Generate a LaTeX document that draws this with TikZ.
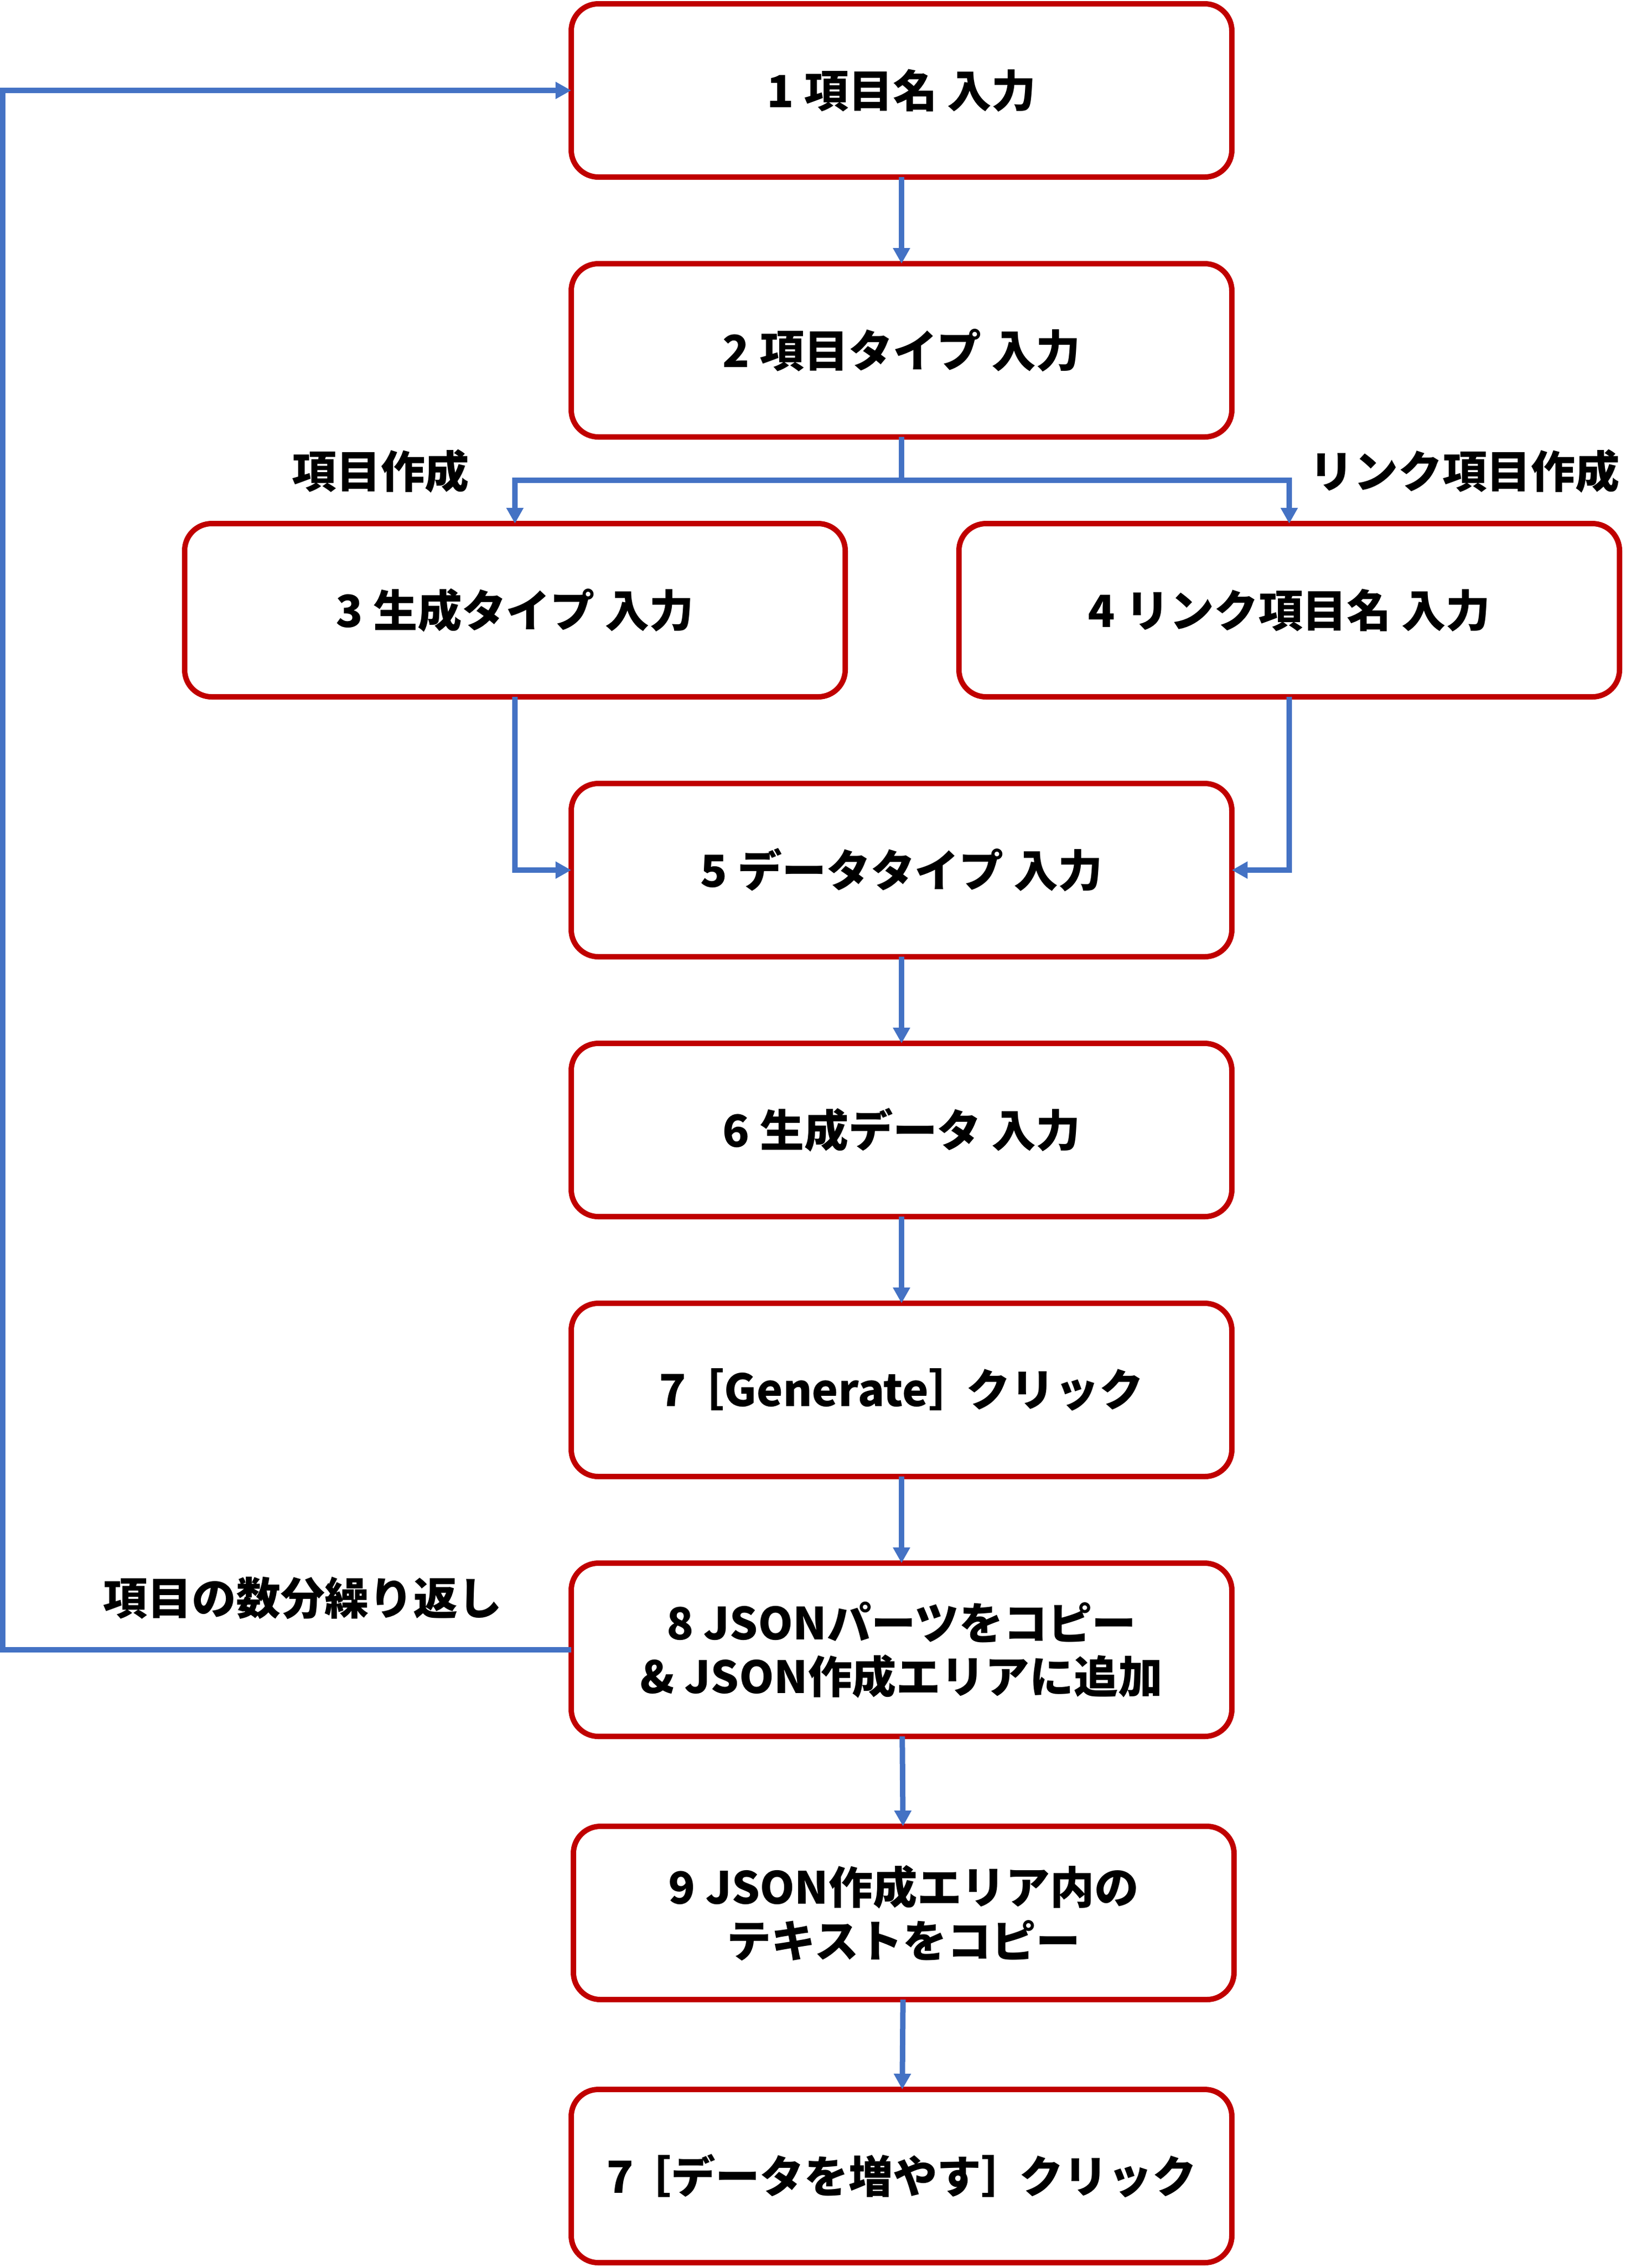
\documentclass[tikz,border=0pt]{standalone}
\usepackage{fontspec}
\setmainfont{Noto Sans CJK JP}
\usetikzlibrary{positioning,arrows.meta}
\definecolor{boxred}{HTML}{C00000}
\definecolor{linkblue}{HTML}{4472C4}
\tikzset{
  stepbox/.style={draw=boxred, line width=0.1cm, rounded corners=0.5cm, fill=white,
    minimum width=12.2cm, minimum height=3.2cm, outer sep=0pt, align=center,
    font=\bfseries\fontsize{23.3}{28.2}\selectfont},
  steplabel/.style={font=\bfseries\fontsize{23.3}{28.2}\selectfont},
  flow/.style={draw=linkblue, line width=0.1cm}
}

\begin{document}
\begin{tikzpicture}[>={Triangle[length=0.29cm,width=0.3cm]}]
			\useasboundingbox (0,0) rectangle (30.5,-41.87);
			\node[stepbox] (n1) at (16.65,-1.67) {1 項目名 入力};
			\node[stepbox] (n2) [below=1.6cm of n1] {2 項目タイプ 入力};
			\node[stepbox] (n3) [below=1.6cm of n2, xshift=-7.14cm] {3 生成タイプ 入力};
			\node[stepbox] (n4) [below=1.6cm of n2, xshift=7.16cm] {4 リンク項目名 入力};
			\node[stepbox] (n5) [below=1.6cm of n3, xshift=7.14cm] {5 データタイプ 入力};
			\node[stepbox] (n6) [below=1.6cm of n5] {6 生成データ 入力};
			\node[stepbox] (n7) [below=1.6cm of n6] {7\kern-.15em［Generate］\kern-.15emクリック};
			\node[stepbox] (n8) [below=1.6cm of n7] {8 JSONパーツをコピー\\\& JSON作成エリアに追加};
			\node[stepbox] (n9) [below=1.66cm of n8, xshift=0.04cm] {9 JSON作成エリア内の\\テキストをコピー};
			\node[stepbox] (n10) [below=1.66cm of n9, xshift=-0.04cm] {7\kern-.15em［データを増やす］\kern-.15emクリック};

			\coordinate (fork) at ([yshift=-0.8cm]n2.south);
			\coordinate (back) at ([xshift=-10.5cm]n8.west);
			\node[steplabel] (lmake) at (7.03,-8.70) {項目作成};
			\node[steplabel] (llink) at (27.05,-8.70) {リンク項目作成};
			\node[steplabel] (lrepeat) at (5.59,-29.52) {項目の数分繰り返し};

			\draw[flow,->] (n1) -- (n2);
			\draw[flow,->] (n2.south) -- (fork) -| (n3.north);
			\draw[flow,->] (fork) -| (n4.north);
			\draw[flow,->] (n3.south) |- (n5.west);
			\draw[flow,->] (n4.south) |- (n5.east);
			\draw[flow,->] (n5) -- (n6);
			\draw[flow,->] (n6) -- (n7);
			\draw[flow,->] (n7) -- (n8);
			\draw[flow,->] (n8) -- (n9);
			\draw[flow,->] (n9) -- (n10);
			\draw[flow,->] (n8.west) -- (back) |- (n1.west);
		\end{tikzpicture}
\end{document}
